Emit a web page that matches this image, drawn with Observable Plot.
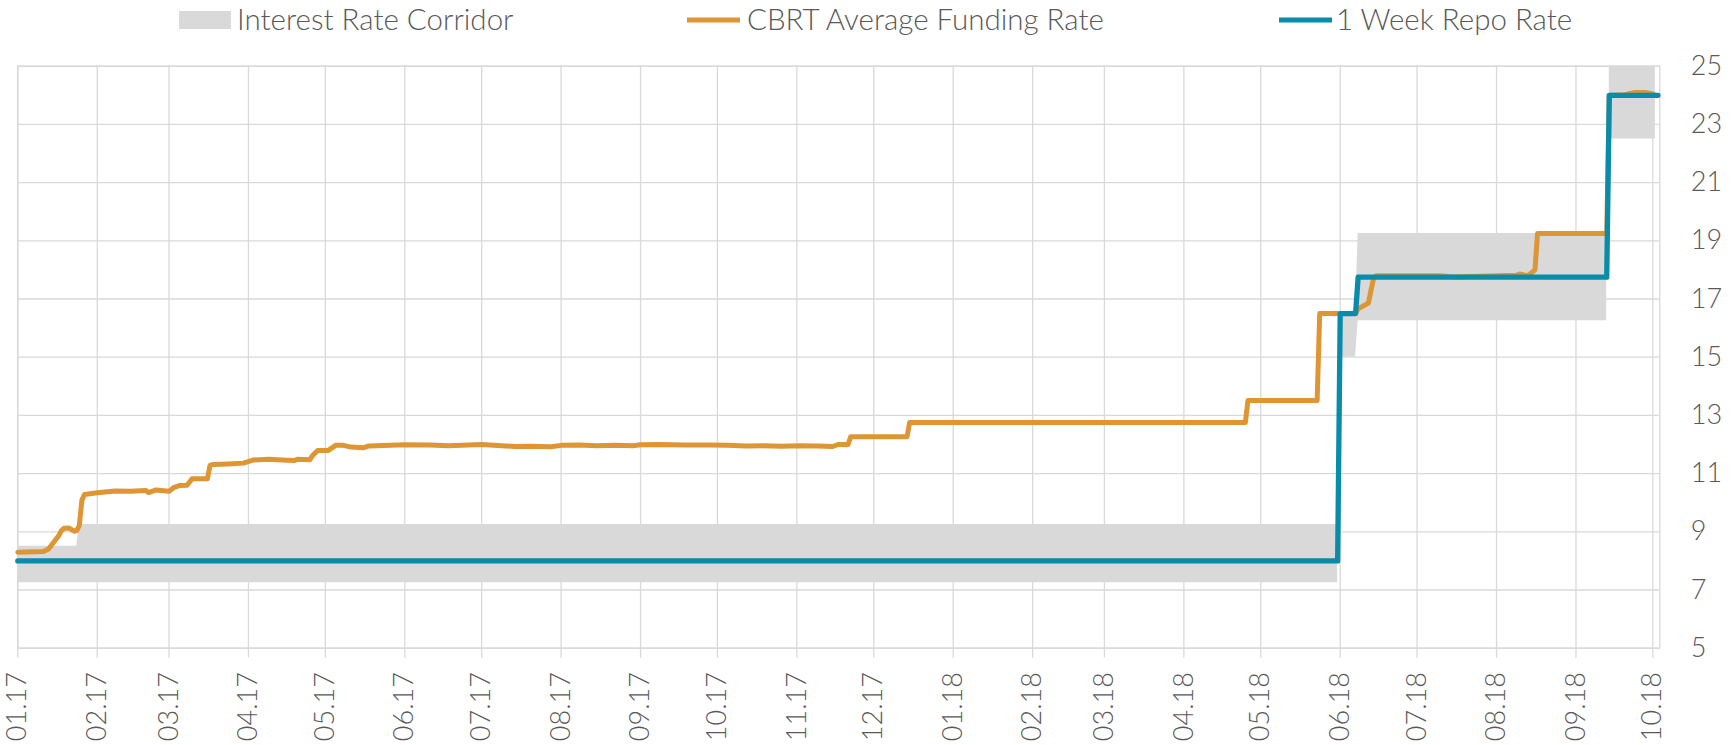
<!DOCTYPE html>
<html>
<head>
<meta charset="utf-8">
<script src="https://cdn.jsdelivr.net/npm/d3@7"></script>
<script src="https://cdn.jsdelivr.net/npm/@observablehq/plot@0.6"></script>
<style>
  html, body { margin: 0; padding: 0; background: #ffffff; }
  #chart { width: 1733px; height: 745px; overflow: hidden; }
  svg { display: block; }
</style>
</head>
<body>
<div id="chart"></div>
<script>
// ---------- Data ----------
const seriesNames = ["Interest Rate Corridor", "CBRT Average Funding Rate", "1 Week Repo Rate"];
const seriesColors = ["#d9d9d9", "#de9533", "#088ca9"];

// Interest rate corridor (lower / upper bound), segments separated by gaps
const corridorDates = ["2017-01-01","2017-01-24","2017-01-25","2018-05-31",
                       "2018-06-01","2018-06-07","2018-06-08","2018-09-13",
                       "2018-09-14","2018-10-02"];
const corridorLow   = [7.25, 7.25, 7.25, 7.25, 15, 15, 16.25, 16.25, 22.5, 22.5];
const corridorHigh  = [8.5, 8.5, 9.25, 9.25, 16.5, 16.5, 19.25, 19.25, 25.5, 25.5];
const corridorSeg   = [1, 1, 1, 1, 2, 2, 2, 2, 3, 3];

// CBRT average funding rate
const fundingDates = [
  "2017-01-01","2017-01-11","2017-01-13","2017-01-15","2017-01-17","2017-01-18","2017-01-19","2017-01-21",
  "2017-01-23","2017-01-24","2017-01-25","2017-01-26","2017-01-27","2017-02-01","2017-02-08","2017-02-14",
  "2017-02-20","2017-02-21","2017-02-24","2017-03-01","2017-03-03","2017-03-05","2017-03-08","2017-03-10",
  "2017-03-16","2017-03-17","2017-03-18","2017-03-24","2017-03-30","2017-04-03","2017-04-09","2017-04-14",
  "2017-04-19","2017-04-20","2017-04-25","2017-04-26","2017-04-28","2017-05-02","2017-05-03","2017-05-05",
  "2017-05-08","2017-05-11","2017-05-16","2017-05-18","2017-06-01","2017-06-11","2017-06-18","2017-07-01",
  "2017-07-14","2017-07-20","2017-07-28","2017-08-01","2017-08-08","2017-08-15","2017-08-22","2017-08-29",
  "2017-09-01","2017-09-08","2017-09-18","2017-09-28","2017-10-05","2017-10-12","2017-10-19","2017-10-26",
  "2017-11-02","2017-11-09","2017-11-15","2017-11-17","2017-11-21","2017-11-22","2017-12-14","2017-12-15",
  "2018-04-25","2018-04-26","2018-05-23","2018-05-24","2018-06-07","2018-06-08","2018-06-12","2018-06-13",
  "2018-06-14","2018-06-15","2018-07-10","2018-07-15","2018-08-09","2018-08-10","2018-08-13","2018-08-14",
  "2018-08-16","2018-08-17","2018-09-13","2018-09-14","2018-09-20","2018-09-24","2018-09-28","2018-10-01",
  "2018-10-02"];
const fundingRate = [
  8.30, 8.32, 8.41, 8.64, 8.87, 9.04, 9.12, 9.13,
  9.02, 9.04, 9.22, 10.08, 10.28, 10.34, 10.40, 10.39,
  10.42, 10.35, 10.44, 10.39, 10.53, 10.59, 10.60, 10.82,
  10.82, 11.28, 11.31, 11.33, 11.36, 11.47, 11.49, 11.47,
  11.45, 11.49, 11.48, 11.62, 11.79, 11.79, 11.85, 11.97,
  11.97, 11.91, 11.89, 11.95, 11.99, 11.98, 11.96, 12.00,
  11.93, 11.94, 11.92, 11.97, 11.98, 11.96, 11.97, 11.96,
  11.99, 12.00, 11.98, 11.98, 11.97, 11.95, 11.96, 11.94,
  11.96, 11.95, 11.93, 12.00, 12.00, 12.27, 12.27, 12.76,
  12.76, 13.51, 13.51, 16.50, 16.50, 16.66, 16.86, 17.29,
  17.69, 17.80, 17.80, 17.76, 17.82, 17.86, 17.80, 17.85,
  18.00, 19.25, 19.25, 24.00, 24.02, 24.10, 24.10, 24.05,
  24.00];

// One-week repo rate
const repoDates = ["2017-01-01","2018-05-31","2018-06-01","2018-06-07","2018-06-08","2018-09-13","2018-09-14","2018-10-03"];
const repoRate  = [8, 8, 16.5, 16.5, 17.75, 17.75, 24, 24];

// Axis ticks
const monthTicks = ["2017-01-01","2017-02-01","2017-03-01","2017-04-01","2017-05-01","2017-06-01","2017-07-01",
  "2017-08-01","2017-09-01","2017-10-01","2017-11-01","2017-12-01","2018-01-01","2018-02-01","2018-03-01",
  "2018-04-01","2018-05-01","2018-06-01","2018-07-01","2018-08-01","2018-09-01","2018-10-01"];
const yTicks = [5, 7, 9, 11, 13, 15, 17, 19, 21, 23, 25];
const xDomain = ["2017-01-01T00:00Z", "2018-10-03T17:00Z"];

// ---------- Tables ----------
const parse = s => new Date(s.length === 10 ? s + "T00:00Z" : s);
const corridor = corridorDates.map((d, i) => ({date: parse(d), lo: corridorLow[i], hi: corridorHigh[i], seg: corridorSeg[i]}));
const funding = fundingDates.map((d, i) => ({date: parse(d), value: fundingRate[i]}));
const repo = repoDates.map((d, i) => ({date: parse(d), value: repoRate[i]}));
const xTicks = monthTicks.map(parse);

const FONT = "Lato, 'Open Sans', sans-serif";
const TEXT = "#595959";
const GRID = "#d9d9d9";

// ---------- Legend (above the plot) ----------
const legendH = 45;
const legend = d3.create("svg").attr("width", 1733).attr("height", legendH)
  .style("font-family", FONT).style("font-weight", 300).style("font-size", "29.5px");
const leg = [
  {type: "rect", sx: 179, tx: 237},
  {type: "line", sx: 687, tx: 747},
  {type: "line", sx: 1279, tx: 1336}
];
leg.forEach((l, i) => {
  if (l.type === "rect") {
    legend.append("rect").attr("x", l.sx).attr("y", 11).attr("width", 52).attr("height", 18).attr("fill", seriesColors[i]);
  } else {
    legend.append("line").attr("x1", l.sx).attr("x2", l.sx + 53).attr("y1", 20).attr("y2", 20)
      .attr("stroke", seriesColors[i]).attr("stroke-width", 5);
  }
  legend.append("text").attr("x", l.tx).attr("y", 30).attr("fill", TEXT).text(seriesNames[i]);
});

// ---------- Plot ----------
const plot = Plot.plot({
  width: 1733,
  height: 745 - legendH,
  marginTop: 65.7 - legendH,
  marginBottom: 745 - 647.7,
  marginLeft: 17.3,
  marginRight: 1733 - 1659.3,
  style: {fontFamily: FONT, fontWeight: 300, background: "#ffffff", color: TEXT, overflow: "visible"},
  x: {type: "utc", domain: xDomain.map(s => new Date(s))},
  y: {domain: [5, 25]},
  marks: [
    Plot.gridX(xTicks, {stroke: GRID, strokeOpacity: 1, strokeWidth: 1.3}),
    Plot.gridY(yTicks, {stroke: GRID, strokeOpacity: 1, strokeWidth: 1.3}),
    Plot.frame({stroke: GRID, strokeWidth: 1.3}),
    Plot.areaY(corridor, {x: "date", y1: "lo", y2: "hi", z: "seg", fill: seriesColors[0], curve: "linear", clip: true}),
    Plot.lineY(funding, {x: "date", y: "value", stroke: seriesColors[1], strokeWidth: 5, strokeLinejoin: "round", curve: "linear"}),
    Plot.lineY(repo, {x: "date", y: "value", stroke: seriesColors[2], strokeWidth: 5.3, strokeLinejoin: "round", curve: "linear"}),
    Plot.axisX(xTicks, {tickFormat: d3.utcFormat("%m.%y"), tickRotate: -90, tickSize: 10, tickPadding: 14,
      stroke: GRID, strokeWidth: 1.3, fill: TEXT, fontSize: 27, label: null}),
    Plot.axisY(yTicks, {anchor: "right", tickSize: 0, tickPadding: 31, fill: TEXT, fontSize: 27, label: null})
  ]
});

const chart = document.getElementById("chart");
chart.appendChild(legend.node());
chart.appendChild(plot);
</script>
</body>
</html>
